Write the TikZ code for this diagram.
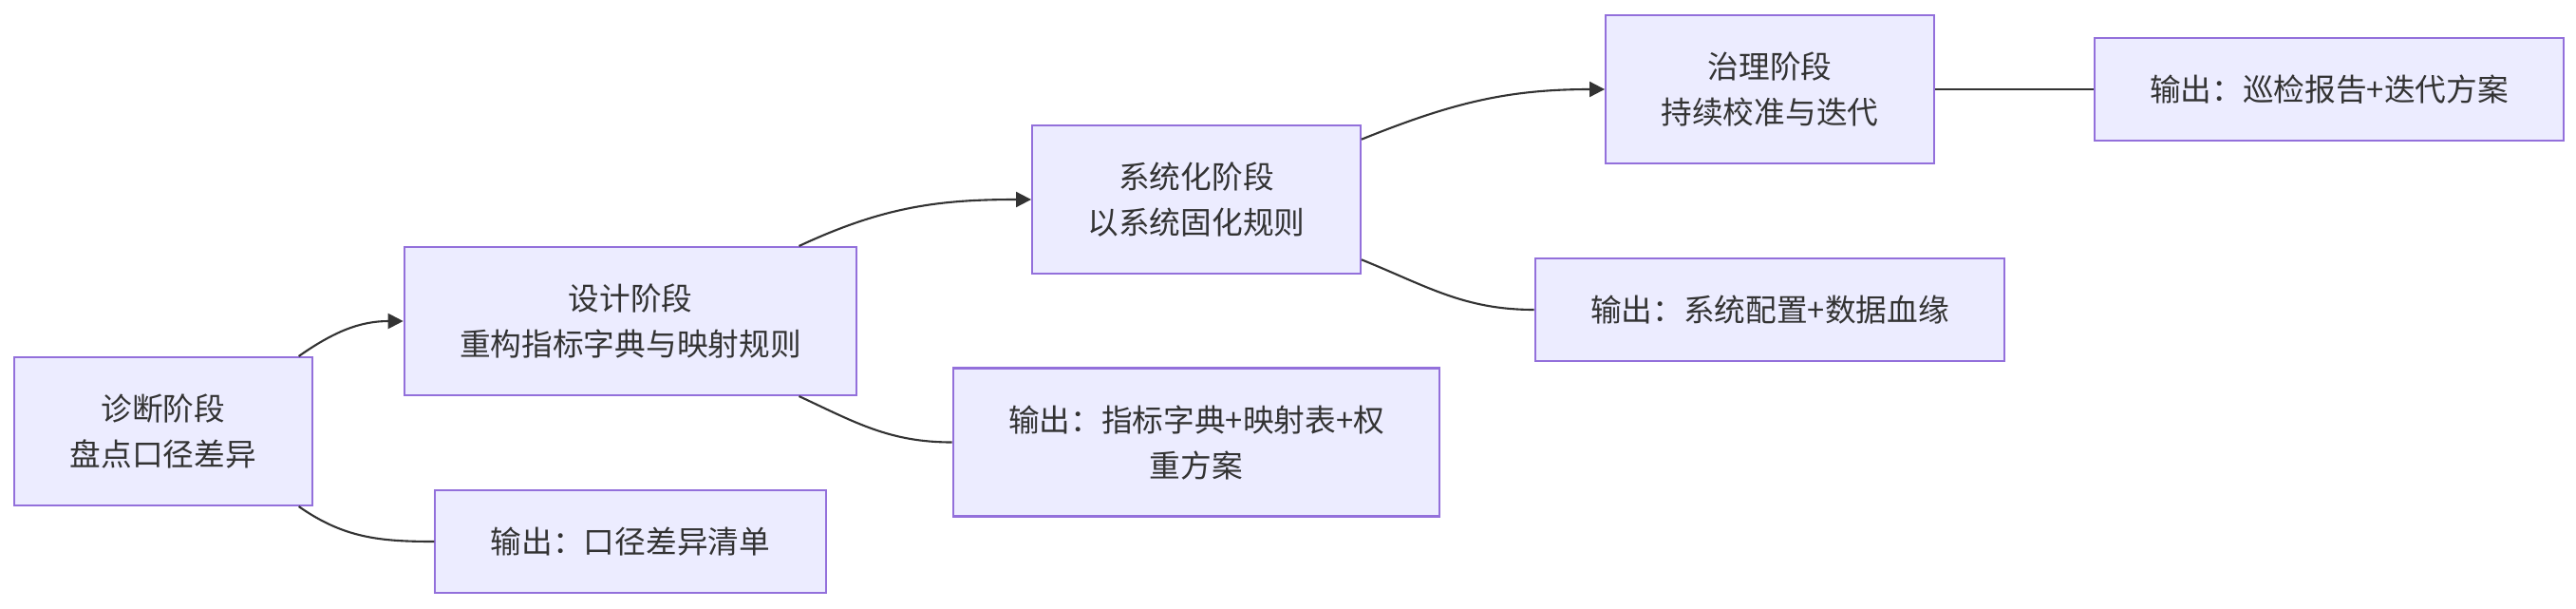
\documentclass[tikz,border=0pt]{standalone}
\usepackage{fontspec}
\setmainfont{Noto Sans CJK SC}
\usetikzlibrary{arrows.meta}
\definecolor{nodefill}{HTML}{ECECFF}
\definecolor{nodeline}{HTML}{9370DB}
\definecolor{edgeline}{HTML}{333333}

\begin{document}
\begin{tikzpicture}[
    stage/.style={rectangle, draw=nodeline, fill=nodefill, line width=0.6pt, align=center, inner xsep=0.585cm, minimum height=1.56cm, font=\fontsize{9.3pt}{13.66pt}\selectfont, text=edgeline},
    output/.style={stage, minimum height=1.08cm},
    arrow/.style={-{Triangle[length=0.16cm,width=0.16cm]}, line width=0.6pt, draw=edgeline},
    link/.style={line width=0.6pt, draw=edgeline},
]
    \useasboundingbox (0,0) rectangle (27.13,6.40);

    % Stages
    \node[stage] (diag) at (1.72, 1.86) {诊断阶段\\盘点口径差异};
    \node[stage] (design) at (6.64, 3.02) {设计阶段\\重构指标字典与映射规则};
    \node[stage] (sys) at (12.60, 4.30) {系统化阶段\\以系统固化规则};
    \node[stage] (gov) at (18.64, 5.46) {治理阶段\\持续校准与迭代};

    % Outputs
    \node[output] (outdiag) at (6.64, 0.70) {输出：口径差异清单};
    \node[stage] (outdesign) at (12.60, 1.745) {输出：指标字典+映射表+权\\重方案};
    \node[output] (outsys) at (18.64, 3.14) {输出：系统配置+数据血缘};
    \node[output] (outgov) at (24.53, 5.46) {输出：巡检报告+迭代方案};

    \draw[arrow] (diag.29.7) to[out=35, in=180] (design.west);
    \draw[link] (diag.-29.7) to[out=-35, in=180] (outdiag.west);
    \draw[arrow] (design.24.3) to[out=25, in=180] (sys.west);
    \draw[link] (design.-24.3) to[out=-25, in=180] (outdesign.west);
    \draw[arrow] (sys.20.9) to[out=22, in=180] (gov.west);
    \draw[link] (sys.-20.3) to[out=-22, in=180] (outsys.west);
    \draw[link] (gov) -- (outgov);
\end{tikzpicture}
\end{document}
